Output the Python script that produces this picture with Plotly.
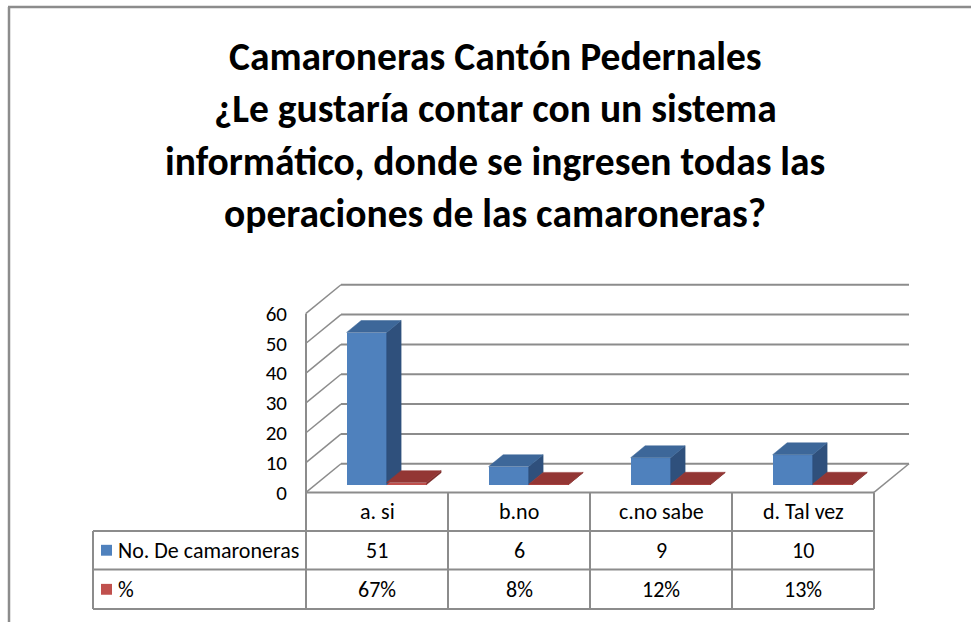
import plotly.graph_objects as go

# ---------------- data ----------------
categories = ["a. si", "b.no", "c.no sabe", "d. Tal vez"]
series_names = ["No. De camaroneras", "%"]
counts = [51, 6, 9, 10]
percents = [67, 8, 12, 13]          # shown as "67%" ; plotted as 0.67 etc.
y_ticks = [0, 10, 20, 30, 40, 50, 60]
title_lines = [
    "Camaroneras Cantón Pedernales",
    "¿Le gustaría contar con un sistema",
    "informático, donde se ingresen todas las",
    "operaciones de las camaroneras?",
]

# ---------------- styling / geometry ----------------
W, H = 971, 624
FONT = "Carlito, 'Liberation Sans Narrow', 'DejaVu Sans Condensed', 'Liberation Sans', sans-serif"
BLUE, BLUE_TOP, BLUE_SIDE = "#4F81BD", "#3D6799", "#2F507C"
RED, RED_TOP, RED_SIDE = "#C0504D", "#933634", "#7A2B29"
GRID = "#8C8C8C"

U = 142.0            # px per category unit
XPX0 = 306.0         # px of x = -0.5
V = 181.0 / 60.0     # px per value unit
YPX0 = 498.0         # px of y = 0
DX = 35.0 / U        # depth offset (x units)
DY = 29.0 / V        # depth offset (y units)
F0, F1 = 8.0 / 29.0, 20.0 / 29.0   # bar front/back depth fraction
BW = 40.0 / U        # bar width

L, R, T, B = 296, 918, 282, 504
xrange_ = [(L - XPX0) / U - 0.5, (R - XPX0) / U - 0.5]
yrange_ = [-(B - YPX0) / V, (YPX0 - T) / V]


def px(x):
    return x / W


def py(y):
    return 1 - y / H


fig = go.Figure()

# bars (front faces) + 3D faces
bdx, bdy = (F1 - F0) * DX, (F1 - F0) * DY
base = F0 * DY
for si, (vals, front, top, side) in enumerate([
    ([float(v) for v in counts], BLUE, BLUE_TOP, BLUE_SIDE),
    ([p / 100.0 for p in percents], RED, RED_TOP, RED_SIDE),
]):
    xs = [i + (si - 0.5) * BW + F0 * DX for i in range(len(categories))]
    fig.add_trace(go.Bar(
        x=xs, y=vals, base=[base] * len(vals), width=BW,
        marker=dict(color=front, line=dict(width=0)),
        name=series_names[si], showlegend=False, hoverinfo="skip",
    ))
    for xc, v in zip(xs, vals):
        x0, x1 = xc - BW / 2, xc + BW / 2
        yt = base + v
        # side face
        fig.add_trace(go.Scatter(
            x=[x1, x1, x1 + bdx, x1 + bdx, x1],
            y=[base, yt, yt + bdy, base + bdy, base],
            fill="toself", fillcolor=side, mode="lines",
            line=dict(color=side, width=0.5), showlegend=False, hoverinfo="skip"))
        # top face
        fig.add_trace(go.Scatter(
            x=[x0, x1, x1 + bdx, x0 + bdx, x0],
            y=[yt, yt, yt + bdy, yt + bdy, yt],
            fill="toself", fillcolor=top, mode="lines",
            line=dict(color=top, width=0.5), showlegend=False, hoverinfo="skip"))

shapes = []
# back wall gridlines and left-wall diagonals
for v in y_ticks:
    shapes.append(dict(type="line", xref="x", yref="y", layer="below",
                       x0=-0.5 + DX, x1=3.5 + DX, y0=v + DY, y1=v + DY,
                       line=dict(color=GRID, width=2)))
    shapes.append(dict(type="line", xref="x", yref="y", layer="below",
                       x0=-0.5, x1=-0.5 + DX, y0=v, y1=v + DY,
                       line=dict(color=GRID, width=1.5)))
# floor right diagonal
shapes.append(dict(type="line", xref="x", yref="y", layer="below",
                   x0=3.5, x1=3.5 + DX, y0=0, y1=DY,
                   line=dict(color=GRID, width=1.5)))
# left axis line
shapes.append(dict(type="line", xref="paper", yref="paper",
                   x0=px(XPX0), x1=px(XPX0), y0=py(YPX0 - 60 * V), y1=py(537),
                   line=dict(color=GRID, width=2)))

# table
tbl_left, tbl_right = 93, 874
row_y = [498, 537, 576, 616]
col_x = [XPX0 + U * k for k in range(5)]
shapes.append(dict(type="line", xref="paper", yref="paper",
                   x0=px(XPX0), x1=px(tbl_right), y0=py(row_y[0]), y1=py(row_y[0]),
                   line=dict(color=GRID, width=2)))
for ry in row_y[1:]:
    shapes.append(dict(type="line", xref="paper", yref="paper",
                       x0=px(tbl_left), x1=px(tbl_right), y0=py(ry), y1=py(ry),
                       line=dict(color=GRID, width=2)))
for cx in col_x:
    shapes.append(dict(type="line", xref="paper", yref="paper",
                       x0=px(cx), x1=px(cx), y0=py(row_y[0]), y1=py(row_y[-1]),
                       line=dict(color=GRID, width=2)))
shapes.append(dict(type="line", xref="paper", yref="paper",
                   x0=px(tbl_left), x1=px(tbl_left), y0=py(row_y[1]), y1=py(row_y[-1]),
                   line=dict(color=GRID, width=2)))
# legend keys
for k, col in enumerate([BLUE, RED]):
    yc = (row_y[k + 1] + row_y[k + 2]) / 2
    shapes.append(dict(type="rect", xref="paper", yref="paper",
                       x0=px(101), x1=px(112), y0=py(yc - 5.5), y1=py(yc + 5.5),
                       fillcolor=col, line=dict(width=0)))
# chart border (left & top)
shapes.append(dict(type="line", xref="paper", yref="paper",
                   x0=px(9), x1=px(9), y0=py(7), y1=py(H + 5),
                   line=dict(color=GRID, width=2.5)))
shapes.append(dict(type="line", xref="paper", yref="paper",
                   x0=px(8), x1=px(W + 5), y0=py(7), y1=py(7),
                   line=dict(color=GRID, width=2.5)))

annotations = []
title_y = [57, 110, 163, 216]
for t, ty in zip(title_lines, title_y):
    annotations.append(dict(text="<b>" + t + "</b>", xref="paper", yref="paper",
                            x=px(495), y=py(ty), xanchor="center", yanchor="middle",
                            showarrow=False, font=dict(family=FONT, size=39.5, color="black")))
cell_font = dict(family=FONT, size=22, color="black")
for k, cat in enumerate(categories):
    xc = (col_x[k] + col_x[k + 1]) / 2
    annotations.append(dict(text=cat, xref="paper", yref="paper", x=px(xc),
                            y=py((row_y[0] + row_y[1]) / 2), showarrow=False,
                            xanchor="center", yanchor="middle", font=cell_font))
    annotations.append(dict(text=str(counts[k]), xref="paper", yref="paper", x=px(xc),
                            y=py((row_y[1] + row_y[2]) / 2), showarrow=False,
                            xanchor="center", yanchor="middle", font=cell_font))
    annotations.append(dict(text=f"{percents[k]}%", xref="paper", yref="paper", x=px(xc),
                            y=py((row_y[2] + row_y[3]) / 2), showarrow=False,
                            xanchor="center", yanchor="middle", font=cell_font))
for k, nm in enumerate(series_names):
    annotations.append(dict(text=nm, xref="paper", yref="paper", x=px(116),
                            y=py((row_y[k + 1] + row_y[k + 2]) / 2), showarrow=False,
                            xanchor="left", yanchor="middle", font=cell_font))

fig.update_layout(
    width=W, height=H,
    margin=dict(l=0, r=0, t=0, b=0),
    paper_bgcolor="white", plot_bgcolor="rgba(0,0,0,0)",
    barmode="overlay", bargap=0,
    showlegend=False,
    shapes=shapes, annotations=annotations,
    xaxis=dict(domain=[px(L), px(R)], range=xrange_, showgrid=False, zeroline=False,
               showticklabels=False, showline=False, fixedrange=True),
    yaxis=dict(domain=[py(B), py(T)], range=yrange_, showgrid=False, zeroline=False,
               showline=False, tickmode="array", tickvals=y_ticks,
               ticktext=[str(v) for v in y_ticks], ticks="", ticklabelstandoff=8,
               tickfont=dict(family=FONT, size=21, color="black"), fixedrange=True),
)

post = (
    "document.documentElement.style.margin='0';"
    "document.body.style.margin='0';"
    "document.documentElement.style.overflow='hidden';"
    "document.body.style.overflow='hidden';"
    "var g=document.getElementById('{plot_id}');"
    "g.style.position='fixed';g.style.left='0px';g.style.top='0px';"
)
fig.write_html("out.html", config={"displayModeBar": False, "responsive": False},
               post_script=post)
